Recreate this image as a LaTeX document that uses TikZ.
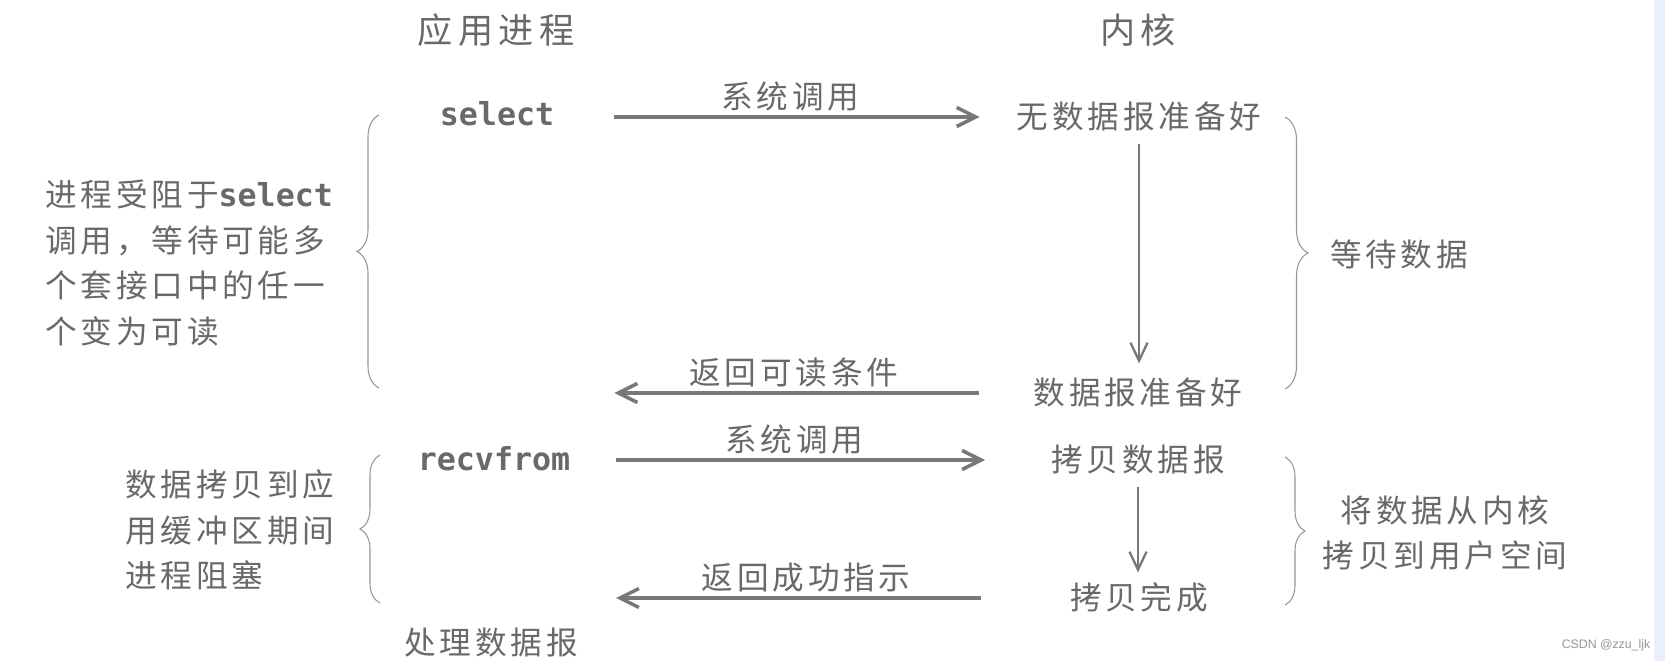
\documentclass[tikz,border=0pt]{standalone}
\usepackage{fontspec}
\usetikzlibrary{arrows.meta,decorations.pathreplacing}
\newfontfamily\cjkfont{Noto Sans CJK SC}[LetterSpace=12]
\newfontfamily\cjktitle{Noto Sans CJK SC}[LetterSpace=16]
\newfontfamily\codefont{DejaVu Sans Mono}
\newfontfamily\wmfont{Liberation Sans}
\definecolor{textgray}{RGB}{105,105,105}
\definecolor{linegray}{RGB}{120,120,120}
\definecolor{bracegray}{RGB}{150,150,150}
\definecolor{stripblue}{RGB}{232,240,254}

\begin{document}
\begin{tikzpicture}[x=0.02cm, y=-0.02cm,
    txt/.style     = {text=textgray, inner sep=0, font=\cjkfont\fontsize{18}{26}\selectfont, text height=16pt, text depth=2.5pt},
    code/.style    = {font=\codefont\bfseries\fontsize{18}{26}\selectfont},
    headtxt/.style = {text=textgray, inner sep=0, font=\cjktitle\fontsize{20}{24}\selectfont, text height=17.5pt, text depth=2.5pt},
    note/.style    = {text=textgray, inner sep=0, font=\cjkfont\fontsize{18}{26}\selectfont},
    flow/.style    = {-{Straight Barb[length=0.38cm, width=0.38cm]}, draw=linegray, line width=2pt},
    drop/.style    = {-{Straight Barb[length=0.36cm, width=0.34cm]}, draw=linegray, line width=1.3pt},
    bracket/.style = {draw=bracegray, line width=0.6pt, decorate, decoration={brace, amplitude=#1}}]
    \fill[white] (0,0) rectangle (1665,661);
    \fill[stripblue] (1654,0) rectangle (1665,661);
    \useasboundingbox (0,0) rectangle (1665,661);

    \node[headtxt]   (app)    at (496,30)   {应用进程};
    \node[headtxt]   (kernel) at (1138,30)  {内核};

    \node[txt, code] (sel)    at (497,114)  {select};
    \node[txt]       (nodata) at (1139,117) {无数据报准备好};
    \node[txt]       (ready)  at (1138,393) {数据报准备好};
    \node[txt, code] (recv)   at (494,459)  {recvfrom};
    \node[txt]       (copy)   at (1138,460) {拷贝数据报};
    \node[txt]       (done)   at (1139,598) {拷贝完成};
    \node[txt]       (proc)   at (491,643)  {处理数据报};

    \draw[flow, shorten <=1.2cm, shorten >=0.74cm]  (sel.east |- nodata.west) -- node[txt, pos=0.51, above=1.5pt]  {系统调用} (nodata.west);
    \draw[drop, shorten <=0.2cm, shorten >=0.26cm]  (nodata.south) -- (nodata.south |- ready.north);
    \draw[flow, shorten <=1.08cm, shorten >=1.2cm]  (ready.west) -- node[txt, midway, above=1.5pt]      {返回可读条件} (ready.west -| sel.east);
    \draw[flow, shorten <=0.91cm, shorten >=1.32cm] (recv.east |- copy.west) -- node[txt, pos=0.466, above=1.5pt] {系统调用} (copy.west);
    \draw[drop, shorten <=0.2cm, shorten >=0.18cm]  (copy.south) -- (copy.south |- done.north);
    \draw[flow, shorten <=1.78cm, shorten >=0.91cm] (done.west) -- node[txt, pos=0.528, above=1.5pt]  {返回成功指示} (done.west -| recv.east);

    % what the process and the kernel do meanwhile
    \node[note, anchor=west, align=left] (block1) at (45,263)  {进程受阻于{\codefont\bfseries select}\\调用，等待可能多\\个套接口中的任一\\个变为可读};
    \node[note, anchor=west, align=left] (block2) at (125,530) {数据拷贝到应\\用缓冲区期间\\进程阻塞};
    \node[txt]                           (wait)   at (1399,255) {等待数据};
    \node[note, align=center]            (move)   at (1445,533) {将数据从内核\\拷贝到用户空间};

    \draw[bracket=0.44cm] (379,388) -- (379,115);
    \draw[bracket=0.40cm] (380,603) -- (380,455);
    \draw[bracket=0.46cm] (1285,117) -- (1285,389);
    \draw[bracket=0.40cm] (1285,457) -- (1285,605);

    \node[text=bracegray, inner sep=0, font=\wmfont\fontsize{7}{8}\selectfont] (mark) at (1606,645) {CSDN @zzu\_ljk};
\end{tikzpicture}
\end{document}
